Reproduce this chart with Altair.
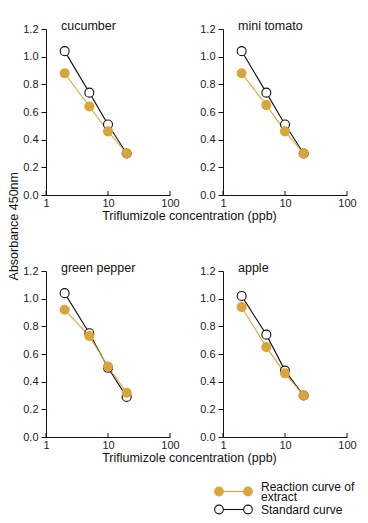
import altair as alt
import pandas as pd

# ---- data ----
concentrations = [2, 5, 10, 20]
panels = ["cucumber", "mini tomato", "green pepper", "apple"]
series_names = ["Reaction curve of extract", "Standard curve"]
legend_lines = [["Reaction curve of", "extract"], ["Standard curve"]]

standard = {
    "cucumber":     [1.04, 0.74, 0.51, 0.30],
    "mini tomato":  [1.04, 0.74, 0.51, 0.30],
    "green pepper": [1.04, 0.75, 0.50, 0.29],
    "apple":        [1.02, 0.74, 0.48, 0.30],
}
extract = {
    "cucumber":     [0.88, 0.64, 0.46, 0.30],
    "mini tomato":  [0.88, 0.65, 0.46, 0.30],
    "green pepper": [0.92, 0.73, 0.51, 0.32],
    "apple":        [0.94, 0.65, 0.46, 0.30],
}
x_tick_values = [1, 10, 100]
y_tick_values = [0.0, 0.2, 0.4, 0.6, 0.8, 1.0, 1.2]

ORANGE = "#D9A43A"
BLACK = "#111111"
FONT = "Liberation Sans"

rows = []
for p in panels:
    for c, v in zip(concentrations, standard[p]):
        rows.append({"panel": p, "conc": c, "value": v, "series": series_names[1]})
for p in panels:
    for c, v in zip(concentrations, extract[p]):
        rows.append({"panel": p, "conc": c, "value": v, "series": series_names[0]})
df = pd.DataFrame(rows)
ticks_df = pd.DataFrame({"conc": x_tick_values})

W, H = 124, 166

stroke_scale = alt.Scale(domain=series_names, range=[ORANGE, BLACK])
fill_scale = alt.Scale(domain=series_names, range=[ORANGE, "#ffffff"])

x_enc = alt.X("conc:Q", scale=alt.Scale(type="log", domain=[1, 100]),
              axis=alt.Axis(values=x_tick_values, format="d", title=None, ticks=False,
                            grid=False, labelFlush=False, labelPadding=2))
y_enc = alt.Y("value:Q", scale=alt.Scale(domain=[0, 1.2]),
              axis=alt.Axis(values=y_tick_values, format=".1f", title=None, grid=False,
                            tickSize=5, labelPadding=3))


def panel(name):
    base = alt.Chart(df).transform_filter(alt.datum.panel == name)
    lines = base.mark_line(strokeWidth=1.1).encode(
        x=x_enc, y=y_enc,
        stroke=alt.Stroke("series:N", scale=stroke_scale, legend=None),
        detail="series:N",
    )
    points = base.mark_point(filled=False, size=80, strokeWidth=1.1, opacity=1).encode(
        x=x_enc, y=y_enc,
        stroke=alt.Stroke("series:N", scale=stroke_scale, legend=None),
        fill=alt.Fill("series:N", scale=fill_scale, legend=None),
    )
    xticks = alt.Chart(ticks_df).mark_rule(color=BLACK, strokeWidth=1).encode(
        x=alt.X("conc:Q", scale=alt.Scale(type="log", domain=[1, 100])),
        y=alt.value(H), y2=alt.value(H - 4),
    )
    label = alt.Chart(pd.DataFrame({"panel": [name]})).mark_text(
        align="left", baseline="middle", font=FONT, fontSize=12.5, color=BLACK
    ).encode(text="panel:N", x=alt.value(15), y=alt.value(-3))
    return alt.layer(lines, points, xticks, label).properties(width=W, height=H)


# ---- hand-built legend (line + two circles, text) ----
LX1, LX2, LTX = 173, 202, 215
LY = [26.5, 44.5]
LINE_H = 10
legend_fill = [ORANGE, "#ffffff"]
legend_stroke = [ORANGE, BLACK]
legend_layers = []
for i, name in enumerate(series_names):
    one = pd.DataFrame({"series": [name]})
    legend_layers.append(alt.Chart(one).mark_rule(color=legend_stroke[i], strokeWidth=1.1).encode(
        x=alt.value(LX1), x2=alt.value(LX2), y=alt.value(LY[i])))
    for xx in (LX1, LX2):
        legend_layers.append(alt.Chart(one).mark_point(
            filled=True, fill=legend_fill[i], stroke=legend_stroke[i], strokeWidth=1.1,
            size=75, opacity=1).encode(x=alt.value(xx), y=alt.value(LY[i])))
    lines_txt = legend_lines[i]
    off = (len(lines_txt) - 1) * LINE_H / 2
    legend_layers.append(alt.Chart(one).mark_text(
        align="left", baseline="middle", font=FONT, fontSize=12, color=BLACK, lineHeight=LINE_H
    ).encode(text=alt.value(lines_txt if len(lines_txt) > 1 else lines_txt[0]),
             x=alt.value(LTX), y=alt.value(LY[i] - off)))
legend_chart = alt.layer(*legend_layers).properties(width=300, height=48)

xtitle = alt.TitleParams("Triflumizole concentration (ppb)", orient="bottom",
                         anchor="middle", font=FONT, fontSize=12.5, fontWeight="normal",
                         color=BLACK, offset=2)
row1 = alt.hconcat(panel(panels[0]), panel(panels[1]), spacing=19).properties(title=xtitle)
row2 = alt.hconcat(panel(panels[2]), panel(panels[3]), spacing=19).properties(title=xtitle)

inner = alt.vconcat(row1, row2, spacing=39).properties(
    title=alt.TitleParams("Absorbance  450nm", orient="left", anchor="middle",
                          font=FONT, fontSize=12.5, fontWeight="normal", color=BLACK,
                          offset=2, dx=16)
)

chart = alt.vconcat(inner, legend_chart, spacing=0).properties(
    padding={"top": 12, "left": 0, "right": 0, "bottom": 0}, background="white"
).configure_view(
    stroke=None, strokeWidth=0
).configure_axis(
    domainColor=BLACK, tickColor=BLACK, labelColor="#222",
    labelFont=FONT, labelFontSize=11,
)

chart.save("out.html", embed_options={"renderer": "svg", "actions": False})
